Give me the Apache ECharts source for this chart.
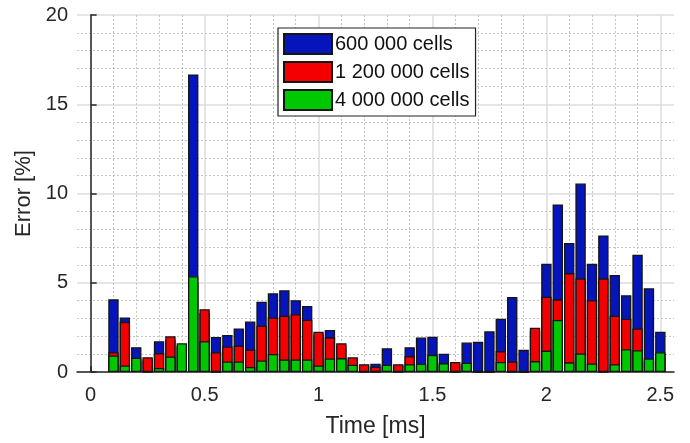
<!DOCTYPE html>
<html>
<head>
<meta charset="utf-8">
<script src="https://cdn.jsdelivr.net/npm/echarts@6/dist/echarts.min.js"></script>
<style>
html,body{margin:0;padding:0;background:#fff;}
#chart{width:690px;height:443px;}
</style>
</head>
<body>
<div id="chart"></div>
<script>
// Time [ms] of each bar
var times = [0.10,0.15,0.20,0.25,0.30,0.35,0.40,0.45,0.50,0.55,0.60,0.65,0.70,0.75,0.80,0.85,0.90,0.95,
  1.00,1.05,1.10,1.15,1.20,1.25,1.30,1.35,1.40,1.45,1.50,1.55,1.60,1.65,1.70,1.75,1.80,1.85,1.90,1.95,
  2.00,2.05,2.10,2.15,2.20,2.25,2.30,2.35,2.40,2.45,2.50];
// Error [%] for 600 000 cells
var err600k = [4.07,3.06,1.39,0.70,1.72,1.80,1.50,16.67,3.30,1.96,2.07,2.44,2.83,3.94,4.41,4.58,4.02,3.70,
  2.10,2.35,1.50,0.70,0.35,0.46,1.33,0.35,1.39,1.93,1.98,1.02,0.45,1.65,1.69,2.28,2.98,4.20,1.24,2.30,
  6.07,9.39,7.22,10.56,6.06,7.65,5.44,4.30,6.57,4.69,2.26];
// Error [%] for 1 200 000 cells
var err1200k = [1.11,2.81,0.60,0.83,1.06,2.00,1.40,5.00,3.52,1.11,1.43,1.48,1.26,2.59,3.05,3.15,3.24,2.93,
  2.26,1.94,1.61,0.83,0.44,0.30,0.30,0.44,0.89,0.35,0.80,0.40,0.56,0.40,0,0,1.17,0.59,0,2.48,
  4.22,4.07,5.54,5.24,4.02,5.24,3.15,2.98,2.44,0.60,1.00];
// Error [%] for 4 000 000 cells
var err4000k = [0.93,0.37,0.80,0,0.22,0.87,1.61,5.37,1.72,0,0.59,0.59,0.28,0.65,1.01,0.70,0.70,0.70,
  0.37,0.76,0.78,0.41,0,0,0.41,0,0.44,0.46,0.96,0.50,0,0.52,0,0,0.56,0,0,0.61,
  1.20,2.91,0.54,1.04,0.48,0,0.43,1.28,1.22,0.76,1.11];
var seriesNames = ['600 000 cells','1 200 000 cells','4 000 000 cells'];
var seriesColors = ['#0614bb','#f50000','#00c800'];
var xMajorTicks = [0,0.5,1,1.5,2,2.5];
var xMinorTicks = [0.1,0.2,0.3,0.4,0.6,0.7,0.8,0.9,1.1,1.2,1.3,1.4,1.6,1.7,1.8,1.9,2.1,2.2,2.3,2.4];

var chart = echarts.init(document.getElementById('chart'), null, {renderer:'canvas'});
var font = 'Liberation Sans, Arial, Helvetica, sans-serif';
var ink = '#262626';
var allVals = [err600k, err1200k, err4000k];

function pairs(vals){ return times.map(function(t,i){ return [t, vals[i]]; }); }

var series = allVals.map(function(vals, k){
  return {
    name: seriesNames[k],
    type: 'bar',
    xAxisIndex: 0,
    yAxisIndex: 0,
    data: pairs(vals),
    barWidth: 10.4,
    barGap: '-100%',
    itemStyle: {color: seriesColors[k], borderColor: '#151515', borderWidth: 1.3},
    emphasis: {disabled: true},
    animation: false
  };
});

var option = {
  animation: false,
  backgroundColor: '#fff',
  grid: {left: 77, right: 16, top: 15, bottom: 68, containLabel: false},
  legend: {
    orient: 'vertical',
    left: 278, top: 28,
    padding: [5, 6, 5, 5],
    itemWidth: 48, itemHeight: 20, itemGap: 6,
    icon: 'rect',
    backgroundColor: '#fff',
    borderColor: '#222', borderWidth: 1.2,
    textStyle: {fontFamily: font, fontSize: 20, color: '#111', padding: [0,0,0,-2]},
    data: seriesNames
  },
  xAxis: [{
    type: 'value',
    min: -0.06, max: 2.56,
    name: 'Time [ms]',
    nameLocation: 'middle',
    nameGap: 43,
    nameTextStyle: {fontFamily: font, fontSize: 23, color: ink},
    axisLine: {show: true, onZero: false, lineStyle: {color: ink, width: 1.5}},
    axisTick: {show: true, inside: true, length: 6, customValues: xMajorTicks, lineStyle: {color: ink, width: 1.5}},
    axisLabel: {show: true, customValues: xMajorTicks, margin: 13, fontFamily: font, fontSize: 20, color: ink,
      formatter: function(v){ return String(v); }},
    splitLine: {show: true, lineStyle: {color: '#dcdcdc', width: 1.5, type: 'solid'}}
  },{
    type: 'value',
    min: -0.06, max: 2.56,
    position: 'bottom',
    axisLine: {show: false},
    axisTick: {show: false, customValues: xMinorTicks},
    axisLabel: {show: false, customValues: xMinorTicks},
    splitLine: {show: true, lineStyle: {color: '#c4c4c4', width: 1, type: [2, 2]}}
  }],
  yAxis: [{
    type: 'value',
    min: 0, max: 20, interval: 5,
    name: 'Error [%]',
    nameLocation: 'middle',
    nameGap: 33,
    nameTextStyle: {fontFamily: font, fontSize: 22, color: ink},
    axisLine: {show: true, lineStyle: {color: ink, width: 1.5}},
    axisTick: {show: true, inside: true, length: 6, lineStyle: {color: ink, width: 1.5}},
    axisLabel: {show: true, margin: 9, fontFamily: font, fontSize: 20, color: ink},
    splitLine: {show: true, lineStyle: {color: '#dcdcdc', width: 1.5, type: 'solid'}},
    minorTick: {show: false, splitNumber: 5},
    minorSplitLine: {show: true, lineStyle: {color: '#c4c4c4', width: 1, type: [2, 2]}}
  }],
  series: series
};
chart.setOption(option);
</script>
</body>
</html>
